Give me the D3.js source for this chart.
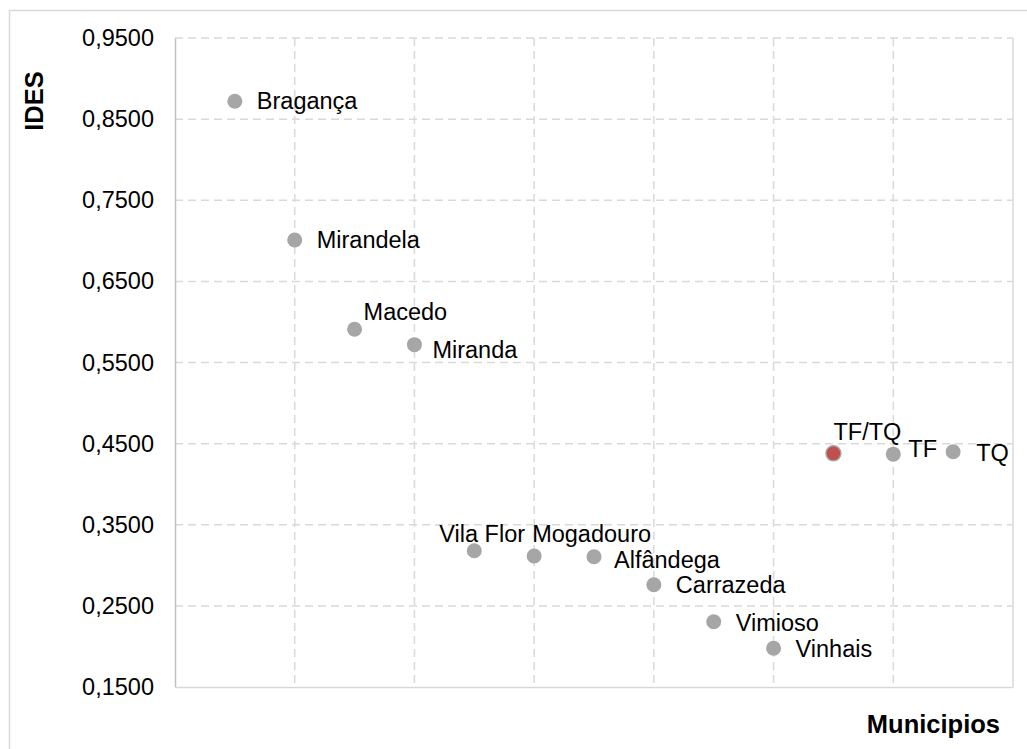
<!DOCTYPE html>
<html>
<head>
<meta charset="utf-8">
<script src="https://cdn.jsdelivr.net/npm/d3@7"></script>
<style>
  body { margin: 0; background: #fff; }
  text { font-family: "Liberation Sans", Arial, sans-serif; fill: #000; }
</style>
</head>
<body>
<div id="chart"></div>
<script>
// chart data
var municipios = ["Bragança", "Mirandela", "Macedo", "Miranda", "Vila Flor", "Mogadouro",
                  "Alfândega", "Carrazeda", "Vimioso", "Vinhais", "TF/TQ", "TF", "TQ"];
var posX = [0.5, 1, 1.5, 2, 2.5, 3, 3.5, 4, 4.5, 5, 5.5, 6, 6.5];
var ides = [0.872, 0.701, 0.591, 0.572, 0.318, 0.3115, 0.3106, 0.276, 0.2305, 0.1977, 0.438, 0.437, 0.440];
var yTicks = [0.15, 0.25, 0.35, 0.45, 0.55, 0.65, 0.75, 0.85, 0.95];
var xGrid = [1, 2, 3, 4, 5, 6];

// label placement (dx to text start, dy to baseline)
var labelOffsets = [[22, 8], [22, 8], [9, -9], [18, 13], [-35, -9], [-2, -14],
                    [20, 11], [22, 8], [22, 9], [22, 9], [0, -13], [15, 3], [23, 9]];

var svgWidth = 1027;
var svgHeight = 749;

var margin = { top: 38, right: 14, bottom: 62, left: 175 };
var width = svgWidth - margin.left - margin.right;
var height = svgHeight - margin.top - margin.bottom;

var svg = d3.select("#chart")
    .append("svg")
    .attr("width", svgWidth)
    .attr("height", svgHeight);

// outer chart border
svg.append("rect")
    .attr("x", 9.5)
    .attr("y", 10.5)
    .attr("width", svgWidth + 20)
    .attr("height", svgHeight + 20)
    .attr("fill", "none")
    .attr("stroke", "#d9d9d9")
    .attr("stroke-width", 1.5);

var chartGroup = svg.append("g")
    .attr("transform", `translate(${margin.left}, ${margin.top})`);

var xScale = d3.scaleLinear().domain([0, 7]).range([0, width]);
var yScale = d3.scaleLinear().domain([0.15, 0.95]).range([height, 0]);

// gridlines
chartGroup.append("g")
    .selectAll("line")
    .data(yTicks.slice(1))
    .enter()
    .append("line")
    .attr("x1", 0)
    .attr("x2", width)
    .attr("y1", d => yScale(d))
    .attr("y2", d => yScale(d))
    .attr("stroke", "#d9d9d9")
    .attr("stroke-width", 1.5)
    .attr("stroke-dasharray", "8,5");

chartGroup.append("g")
    .selectAll("line")
    .data(xGrid)
    .enter()
    .append("line")
    .attr("x1", d => xScale(d))
    .attr("x2", d => xScale(d))
    .attr("y1", 0)
    .attr("y2", height)
    .attr("stroke", "#d9d9d9")
    .attr("stroke-width", 1.5)
    .attr("stroke-dasharray", "8,5");

// right border
chartGroup.append("line")
    .attr("x1", width).attr("x2", width)
    .attr("y1", 0).attr("y2", height)
    .attr("stroke", "#d9d9d9")
    .attr("stroke-width", 1.5);

// axes
var leftAxis = d3.axisLeft(yScale)
    .tickValues(yTicks)
    .tickSize(0)
    .tickPadding(21)
    .tickFormat(d => d3.format(".4f")(d).replace(".", ","));

var yAxis = chartGroup.append("g").call(leftAxis);
yAxis.select(".domain").attr("stroke", "#bfbfbf").attr("stroke-width", 1.5);
yAxis.selectAll("text")
    .style("font-family", "'Liberation Sans', Arial, sans-serif")
    .style("font-size", "23.5px")
    .attr("fill", "#000");

var bottomAxis = d3.axisBottom(xScale).tickValues([]).tickSize(0);
var xAxis = chartGroup.append("g")
    .attr("transform", `translate(0, ${height})`)
    .call(bottomAxis);
xAxis.select(".domain").attr("stroke", "#d9d9d9").attr("stroke-width", 1.5);

// points
chartGroup.selectAll("circle")
    .data(municipios)
    .enter()
    .append("circle")
    .attr("cx", (d, i) => xScale(posX[i]))
    .attr("cy", (d, i) => yScale(ides[i]))
    .attr("r", 7.5)
    .attr("fill", d => d === "TF/TQ" ? "#c0504d" : "#a6a6a6")
    .attr("stroke", d => d === "TF/TQ" ? "#a6a6a6" : "none")
    .attr("stroke-width", 1.5);

// labels
chartGroup.selectAll(".pointLabel")
    .data(municipios)
    .enter()
    .append("text")
    .attr("class", "pointLabel")
    .attr("x", (d, i) => xScale(posX[i]) + labelOffsets[i][0])
    .attr("y", (d, i) => yScale(ides[i]) + labelOffsets[i][1])
    .attr("font-size", "23.5px")
    .text(d => d);

// axis titles
svg.append("text")
    .attr("transform", "translate(43, 101) rotate(-90)")
    .attr("text-anchor", "middle")
    .attr("font-size", "25.5px")
    .attr("font-weight", "bold")
    .text("IDES");

svg.append("text")
    .attr("x", 1000)
    .attr("y", 733)
    .attr("text-anchor", "end")
    .attr("font-size", "25.5px")
    .attr("font-weight", "bold")
    .text("Municipios");
</script>
</body>
</html>
